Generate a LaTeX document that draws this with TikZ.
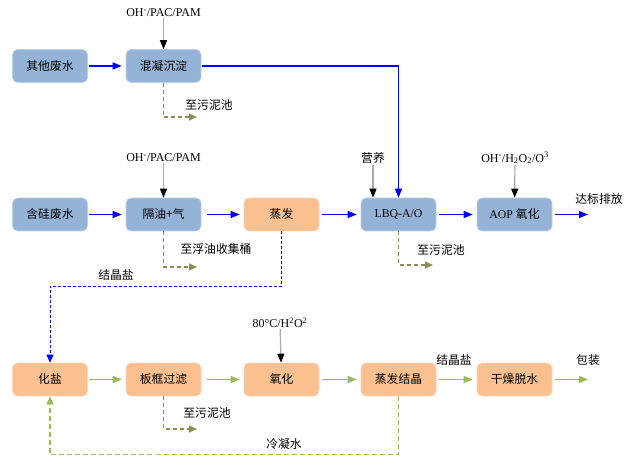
\documentclass[tikz,border=0pt]{standalone}
\usepackage{fontspec}
\setmainfont{Liberation Serif}
\newfontfamily\cjk{Noto Sans CJK SC}
\usetikzlibrary{arrows.meta}

\definecolor{boxblue}{RGB}{149,179,215}
\definecolor{boxblueline}{RGB}{190,208,232}
\definecolor{boxorange}{RGB}{250,192,144}
\definecolor{boxorangeline}{RGB}{252,215,185}
\definecolor{flowgreen}{RGB}{155,187,89}
\definecolor{sludge}{RGB}{148,138,84}
\definecolor{feedgray}{RGB}{170,170,170}

\tikzset{
  stage/.style={rounded corners=5bp, minimum width=75bp, minimum height=33bp, inner sep=0pt,
    line width=0.6bp, font=\fontsize{11.8bp}{14bp}\selectfont\cjk},
  bluestage/.style={stage, fill=boxblue, draw=boxblueline},
  orangestage/.style={stage, fill=boxorange, draw=boxorangeline},
  tag/.style={inner sep=1bp, font=\fontsize{11.8bp}{14bp}\selectfont\cjk},
  chem/.style={inner sep=1bp, font=\fontsize{12bp}{14bp}\selectfont},
  blueflow/.style={-{Triangle[length=9bp,width=7bp]}, blue, line width=1.3bp, shorten <=1bp, shorten >=4bp},
  greenflow/.style={-{Triangle[length=9bp,width=7bp]}, flowgreen, line width=1.3bp, shorten <=1bp, shorten >=4bp},
  feed/.style={-{Triangle[length=9bp,width=7bp,color=black]}, feedgray, line width=1.2bp},
  sludgeline/.style={-{Triangle[length=8bp,width=7bp]}, sludge, line width=1.1bp, dash pattern=on 4bp off 3bp},
  saltline/.style={-{Triangle[length=8bp,width=7bp]}, blue, line width=0.9bp, dash pattern=on 3bp off 2bp},
  condline/.style={-{Triangle[length=8bp,width=7bp]}, flowgreen, line width=1.2bp, dash pattern=on 5bp off 3bp}
}

\begin{document}
\begin{tikzpicture}[x=1bp, y=-1bp]
  \useasboundingbox (0,0) rectangle (632,459);

  % row 1
  \node[bluestage] (qita) at (50,66) {其他废水};
  \node[bluestage] (hunning) at (163.5,66) {混凝沉淀};
  \node[chem] (feedA) at (163.5,13) {OH\textsuperscript{-}/PAC/PAM};

  % row 2
  \node[bluestage] (hangui) at (50,214.5) {含硅废水};
  \node[bluestage] (geyou) at (163.5,214.5) {隔油+气};
  \node[orangestage] (zhengfa) at (281.5,214.5) {蒸发};
  \node[bluestage] (lbq) at (398.5,214.5) {\rmfamily LBQ-A/O};
  \node[bluestage] (aop) at (514.5,214.5) {\rmfamily AOP\ \cjk 氧化};
  \node[chem] (feedB) at (163.5,158) {OH\textsuperscript{-}/PAC/PAM};
  \node[tag] (yingyang) at (373,158) {营养};
  \node[chem] (feedC) at (515,158) {OH\textsuperscript{-}/H\textsubscript{2}O\textsubscript{2}/O\textsuperscript{3}};

  % row 3
  \node[orangestage] (huayan) at (50,379.5) {化盐};
  \node[orangestage] (banku) at (163.5,379.5) {板框过滤};
  \node[orangestage] (yanghua) at (281.5,379.5) {氧化};
  \node[orangestage] (zhengjie) at (398.5,379.5) {蒸发结晶};
  \node[orangestage] (ganzao) at (514.5,379.5) {干燥脱水};
  \node[chem] (feedD) at (280,323) {80°C/H\textsuperscript{2}O\textsuperscript{2}};

  % free ends
  \coordinate (outA) at (588,214.5);
  \coordinate (outB) at (588,379.5);
  \coordinate (sludgeA) at (197,117);
  \coordinate (oilA) at (197,267);
  \coordinate (sludgeB) at (433,265);
  \coordinate (sludgeC) at (197,429);

  % main flow
  \draw[blueflow] (qita) -- (hunning);
  \draw[blueflow, shorten >=0bp] (hunning.east) -| (lbq.north);
  \draw[blueflow] (hangui) -- (geyou);
  \draw[blueflow, shorten <=6bp] (geyou) -- (zhengfa);
  \draw[blueflow, shorten <=3bp] (zhengfa) -- (lbq);
  \draw[blueflow, shorten <=3bp] (lbq) -- (aop);
  \draw[blueflow, shorten <=3bp, shorten >=0bp] (aop) -- (outA);

  \draw[greenflow] (huayan) -- (banku);
  \draw[greenflow, shorten <=6bp] (banku) -- (yanghua);
  \draw[greenflow, shorten <=3bp] (yanghua) -- (zhengjie);
  \draw[greenflow, shorten <=3bp] (zhengjie) -- (ganzao);
  \draw[greenflow, shorten <=3bp, shorten >=0bp] (ganzao) -- (outB);

  % dosing
  \draw[feed] (feedA) -- (hunning);
  \draw[feed] (feedB) -- (geyou);
  \draw[feed] (yingyang.south) -- (yingyang.south |- lbq.north);
  \draw[feed] (feedC) -- (aop);
  \draw[feed] (feedD) -- (yanghua);

  % sludge and side streams
  \draw[sludgeline] (hunning.south) |- (sludgeA);
  \draw[sludgeline] (geyou.south) |- (oilA);
  \draw[sludgeline] (lbq.south) |- (sludgeB);
  \draw[sludgeline] (banku.south) |- (sludgeC);
  \draw[saltline] (zhengfa.south) -- ++(0,55) -| (huayan.north);
  \draw[condline] (zhengjie.south) -- ++(0,58) -| (huayan.south);

  % labels
  \node[tag] at (209,105) {至污泥池};
  \node[tag] at (216,249) {至浮油收集桶};
  \node[tag] at (441,250) {至污泥池};
  \node[tag] at (207,413) {至污泥池};
  \node[tag] at (599,199) {达标排放};
  \node[tag] at (116,275) {结晶盐};
  \node[tag] at (454,360) {结晶盐};
  \node[tag] at (588,360) {包装};
  \node[tag] at (284,444) {冷凝水};
\end{tikzpicture}
\end{document}
